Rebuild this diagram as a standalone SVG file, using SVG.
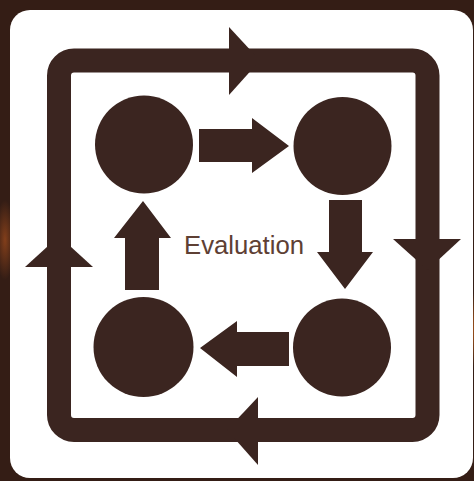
<svg xmlns="http://www.w3.org/2000/svg" width="474" height="481" viewBox="0 0 474 481">
  <defs>
    <style>
      .shape { fill: #3b2520; }
      .loop { fill: none; stroke: #3b2520; stroke-width: 24; }
      .label { font-family: "Liberation Sans", Arial, sans-serif; font-size: 25px; fill: #5e4034; }
    </style>
    <radialGradient id="glowR" cx="0.5" cy="0.5" r="0.5">
      <stop offset="0" stop-color="#e0701c" stop-opacity="0.9"/>
      <stop offset="1" stop-color="#e0701c" stop-opacity="0"/>
    </radialGradient>
    <radialGradient id="glowC" cx="0.5" cy="0.5" r="0.5">
      <stop offset="0" stop-color="#d06020" stop-opacity="0.5"/>
      <stop offset="1" stop-color="#d06020" stop-opacity="0"/>
    </radialGradient>
  </defs>

  <!-- background -->
  <rect x="0" y="0" width="474" height="481" fill="#341d15"/>
  <ellipse cx="468" cy="330" rx="14" ry="40" fill="url(#glowR)"/>
  <ellipse cx="5" cy="240" rx="10" ry="40" fill="url(#glowC)"/>

  <!-- white panel -->
  <rect x="10" y="10" width="463" height="468" rx="20" fill="#ffffff"/>

  <g id="connectors">
    <!-- outer loop -->
    <rect class="loop" x="59" y="60.5" width="368.5" height="369.5" rx="15"/>
    <polygon class="shape" points="229,27 260,60.5 229,95"/>
    <polygon class="shape" points="393,239 461,239 427.5,270"/>
    <polygon class="shape" points="258,397 227,430 258,465"/>
    <polygon class="shape" points="25,267 93,267 59,236"/>
    <!-- block arrows -->
    <polygon class="shape" points="199,129 252,129 252,118 289,146 252,173 252,162 199,162"/>
    <polygon class="shape" points="329,200 362,200 362,252 373,252 345,289 317,252 329,252"/>
    <polygon class="shape" points="289,332 289,366 237,366 237,377 200,348 237,321 237,332"/>
    <polygon class="shape" points="125,290 125,238 114,238 143,201 171,238 159,238 159,290"/>
  </g>

  <g id="node-top-left">
    <circle class="shape" cx="144" cy="144.5" r="49"/>
  </g>
  <g id="node-top-right">
    <circle class="shape" cx="342.5" cy="146" r="49"/>
  </g>
  <g id="node-bottom-right">
    <circle class="shape" cx="342" cy="347.5" r="49"/>
  </g>
  <g id="node-bottom-left">
    <circle class="shape" cx="143.5" cy="347" r="50"/>
  </g>

  <g id="label-evaluation">
    <text class="label" x="184" y="254" textLength="120" lengthAdjust="spacingAndGlyphs">Evaluation</text>
  </g>
</svg>
